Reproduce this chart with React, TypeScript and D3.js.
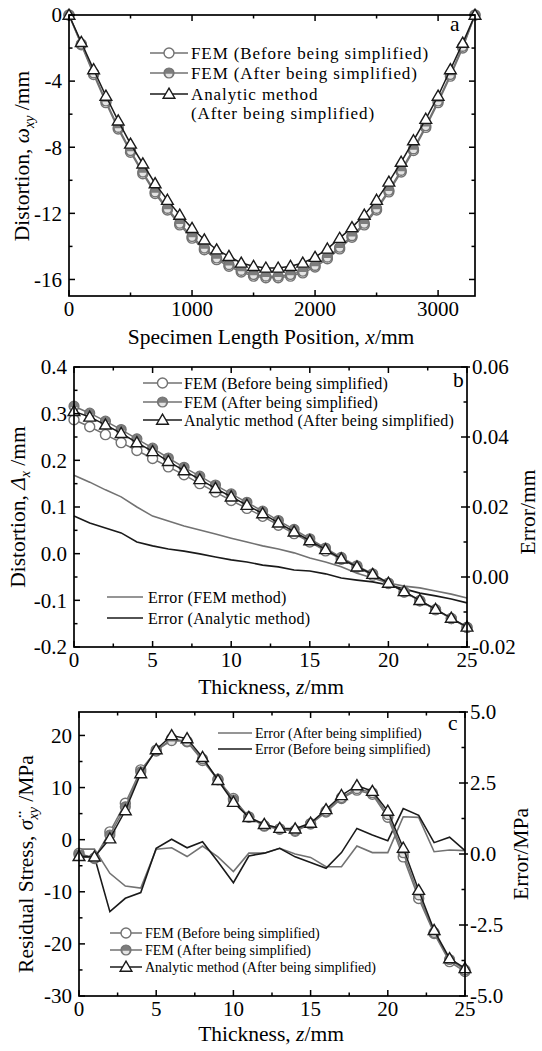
import React from "react";
import * as d3 from "d3";

const FONT = "'Liberation Serif', 'DejaVu Serif', serif";
const GRAY = "#727272";
const DARK = "#1a1a1a";
const TICK_FS = 21;
const TITLE_FS = 21.5;

// ---------------- Panel a ----------------
const aPosition = [0, 100, 200, 300, 400, 500, 600, 700, 800, 900, 1000, 1100, 1200, 1300, 1400, 1500, 1600, 1700, 1800, 1900, 2000, 2100, 2200, 2300, 2400, 2500, 2600, 2700, 2800, 2900, 3000, 3100, 3200, 3300];
const aFemBefore = [0, -1.8, -3.6, -5.3, -6.9, -8.3, -9.6, -10.8, -11.8, -12.7, -13.5, -14.2, -14.8, -15.2, -15.55, -15.8, -15.9, -15.9, -15.8, -15.6, -15.25, -14.75, -14.15, -13.45, -12.7, -11.8, -10.7, -9.5, -8.2, -6.8, -5.3, -3.7, -2.0, 0];
const aFemAfter = [0, -1.75, -3.5, -5.2, -6.8, -8.2, -9.5, -10.7, -11.7, -12.6, -13.4, -14.1, -14.7, -15.1, -15.45, -15.7, -15.8, -15.8, -15.7, -15.5, -15.15, -14.65, -14.05, -13.35, -12.6, -11.7, -10.6, -9.4, -8.1, -6.7, -5.2, -3.6, -1.9, 0];
const aAnalytic = [0, -1.65, -3.3, -4.9, -6.4, -7.8, -9.0, -10.2, -11.2, -12.1, -12.9, -13.6, -14.2, -14.6, -15.0, -15.2, -15.3, -15.3, -15.2, -15.0, -14.65, -14.15, -13.5, -12.85, -12.1, -11.2, -10.1, -8.9, -7.6, -6.3, -4.9, -3.3, -1.7, 0];
const aXTicks = [0, 1000, 2000, 3000];
const aXMinor = [500, 1500, 2500];
const aYTicks = [0, -4, -8, -12, -16];
const aYMinor = [-2, -6, -10, -14];

// ---------------- Panel b ----------------
const bThickness = [0, 1, 2, 3, 4, 5, 6, 7, 8, 9, 10, 11, 12, 13, 14, 15, 16, 17, 18, 19, 20, 21, 22, 23, 24, 25];
const bFemBefore = [0.287, 0.272, 0.255, 0.238, 0.221, 0.204, 0.186, 0.169, 0.150, 0.132, 0.114, 0.097, 0.080, 0.061, 0.043, 0.025, 0.006, -0.012, -0.029, -0.046, -0.064, -0.082, -0.101, -0.120, -0.139, -0.158];
const bFemAfter = [0.316, 0.301, 0.284, 0.266, 0.246, 0.226, 0.205, 0.185, 0.166, 0.147, 0.128, 0.110, 0.091, 0.071, 0.052, 0.032, 0.012, -0.008, -0.026, -0.043, -0.063, -0.082, -0.101, -0.120, -0.139, -0.158];
const bAnalytic = [0.305, 0.293, 0.276, 0.258, 0.238, 0.219, 0.198, 0.178, 0.159, 0.140, 0.122, 0.104, 0.086, 0.066, 0.047, 0.028, 0.009, -0.011, -0.028, -0.044, -0.063, -0.081, -0.100, -0.119, -0.138, -0.157];
const bErrFem = [0.0291, 0.0271, 0.0249, 0.0229, 0.0200, 0.0174, 0.0160, 0.0146, 0.0134, 0.0123, 0.0111, 0.0100, 0.0089, 0.0080, 0.0069, 0.0054, 0.0043, 0.0029, 0.0011, -0.0003, -0.0017, -0.0026, -0.0031, -0.0040, -0.0049, -0.0060];
const bErrAnalytic = [0.0174, 0.0154, 0.0140, 0.0126, 0.0100, 0.0089, 0.0080, 0.0074, 0.0066, 0.0057, 0.0049, 0.0043, 0.0034, 0.0029, 0.0020, 0.0017, 0.0009, -0.0003, -0.0009, -0.0014, -0.0023, -0.0034, -0.0046, -0.0054, -0.0063, -0.0074];
const bXTicks = [0, 5, 10, 15, 20, 25];
const bXMinor = [2.5, 7.5, 12.5, 17.5, 22.5];
const bYTicks = [0.4, 0.3, 0.2, 0.1, 0.0, -0.1, -0.2];
const bYMinor = [0.35, 0.25, 0.15, 0.05, -0.05, -0.15];
const bYRTicks = [0.06, 0.04, 0.02, 0.0, -0.02];
const bYRMinor = [0.05, 0.03, 0.01, -0.01];

// ---------------- Panel c ----------------
const cThickness = [0, 1, 2, 3, 4, 5, 6, 7, 8, 9, 10, 11, 12, 13, 14, 15, 16, 17, 18, 19, 20, 21, 22, 23, 24, 25];
const cFemBefore = [-2.6, -3.6, 1.5, 7.0, 13.4, 17.0, 19.4, 18.8, 15.2, 11.5, 7.9, 4.3, 2.6, 2.0, 1.6, 3.0, 5.3, 7.9, 9.5, 8.7, 4.3, -3.3, -11.3, -18.0, -23.4, -25.3];
const cFemAfter = [-2.9, -3.5, 0.9, 6.3, 13.0, 17.2, 19.0, 18.9, 15.5, 11.6, 7.6, 4.4, 2.7, 2.1, 1.8, 3.1, 5.5, 8.1, 9.8, 9.0, 4.8, -2.5, -10.6, -17.8, -23.0, -25.0];
const cAnalytic = [-3.2, -3.3, 0.2, 5.6, 12.7, 17.3, 20.0, 19.4, 15.8, 11.4, 7.2, 4.3, 2.95, 2.2, 2.1, 3.2, 5.8, 8.5, 10.4, 9.3, 5.5, -1.6, -9.7, -17.4, -22.8, -24.7];
const cErrAfter = [0.17, 0.17, -0.68, -1.13, -1.2, 0.17, 0.22, -0.09, 0.28, -0.1, -0.62, 0.03, 0.03, 0.2, 0.0, -0.12, -0.45, -0.45, 0.28, 0.05, 0.05, 1.31, 1.29, 0.08, 0.14, 0.12];
const cErrBefore = [-0.1, -0.1, -2.03, -1.56, -1.36, 0.2, 0.52, 0.22, 0.43, -0.27, -1.01, -0.07, 0.03, 0.2, -0.1, -0.3, -0.5, 0.05, 0.9, 0.67, 0.47, 1.6, 1.36, 0.4, 0.59, 0.12];
const cXTicks = [0, 5, 10, 15, 20, 25];
const cXMinor = [2.5, 7.5, 12.5, 17.5, 22.5];
const cYTicks = [20, 10, 0, -10, -20, -30];
const cYMinor = [15, 5, -5, -15, -25];
const cYRTicks = [5, 2.5, 0, -2.5, -5];
const cYRMinor = [3.75, 1.25, -1.25, -3.75];

type Box = { l: number; t: number; r: number; b: number };

function Marker({ kind, x, y, s = 1 }: { kind: string; x: number; y: number; s?: number }) {
  if (kind === "open")
    return <circle cx={x} cy={y} r={5 * s} fill="#fff" stroke={GRAY} strokeWidth={1.4} />;
  if (kind === "half") {
    const r = 3.4 * s;
    return (
      <g>
        <circle cx={x} cy={y} r={5 * s} fill="#7d7d7d" stroke={GRAY} strokeWidth={1.2} />
        <path d={`M${x - r},${y + 0.8} A${r},${r} 0 0 0 ${x + r},${y + 0.8} Z`} fill="#e4e4e4" />
      </g>
    );
  }
  const h = 5.6 * s;
  return (
    <path
      d={`M${x},${y - h * 1.05} L${x + h * 1.05},${y + h * 0.75} L${x - h * 1.05},${y + h * 0.75} Z`}
      fill="#fff"
      stroke={DARK}
      strokeWidth={1.4}
    />
  );
}

function Series({ xs, ys, x, y, color, kind, width = 1.5 }: any) {
  const line = d3
    .line<number>()
    .x((_, i) => x(xs[i]))
    .y((d) => y(d));
  return (
    <g>
      <path d={line(ys) || ""} fill="none" stroke={color} strokeWidth={width} />
      {kind && ys.map((v: number, i: number) => <Marker key={i} kind={kind} x={x(xs[i])} y={y(v)} />)}
    </g>
  );
}

function Frame({ box, x, y, yR, xTicks, xMinor, yTicks, yMinor, yRTicks, yRMinor, yFmt, yRFmt }: any) {
  const M = 6, m = 3.5;
  const els: any[] = [];
  let k = 0;
  const tk = (x1: number, y1: number, x2: number, y2: number) =>
    els.push(<line key={k++} x1={x1} y1={y1} x2={x2} y2={y2} stroke="#000" strokeWidth={1.5} />);
  xTicks.forEach((v: number) => {
    const px = x(v);
    tk(px, box.b, px, box.b - M);
    tk(px, box.t, px, box.t + M);
    els.push(
      <text key={k++} x={px} y={box.b + 20} textAnchor="middle" fontSize={TICK_FS}>
        {v}
      </text>
    );
  });
  xMinor.forEach((v: number) => {
    const px = x(v);
    tk(px, box.b, px, box.b - m);
    tk(px, box.t, px, box.t + m);
  });
  yTicks.forEach((v: number) => {
    const py = y(v);
    tk(box.l, py, box.l + M, py);
    if (!yR) tk(box.r, py, box.r - M, py);
    els.push(
      <text key={k++} x={box.l - 7} y={py} dy="0.35em" textAnchor="end" fontSize={TICK_FS}>
        {yFmt(v)}
      </text>
    );
  });
  yMinor.forEach((v: number) => {
    const py = y(v);
    tk(box.l, py, box.l + m, py);
    if (!yR) tk(box.r, py, box.r - m, py);
  });
  if (yR) {
    yRTicks.forEach((v: number) => {
      const py = yR(v);
      tk(box.r - M, py, box.r + 3, py);
      els.push(
        <text key={k++} x={box.r + 5} y={py} dy="0.35em" textAnchor="start" fontSize={TICK_FS}>
          {yRFmt(v)}
        </text>
      );
    });
    yRMinor.forEach((v: number) => {
      const py = yR(v);
      tk(box.r, py, box.r - m, py);
    });
  }
  return (
    <g>
      <rect x={box.l} y={box.t} width={box.r - box.l} height={box.b - box.t} fill="none" stroke="#000" strokeWidth={1.7} />
      {els}
    </g>
  );
}

function LegendRow({ x1, x2, y, color, kind, text, tx, fs, ls = 0 }: any) {
  return (
    <g>
      <line x1={x1} x2={x2} y1={y} y2={y} stroke={color} strokeWidth={1.5} />
      {kind && <Marker kind={kind} x={(x1 + x2) / 2} y={y} />}
      <text x={tx} y={y} dy="0.35em" fontSize={fs} letterSpacing={ls}>
        {text}
      </text>
    </g>
  );
}

const fmtInt = (v: number) => String(v);
const fmt1 = (v: number) => v.toFixed(1);
const fmt2 = (v: number) => v.toFixed(2);

export default function App() {
  const boxA: Box = { l: 69, t: 15, r: 475, b: 296 };
  const xA = d3.scaleLinear().domain([0, 3300]).range([boxA.l, boxA.r]);
  const yA = d3.scaleLinear().domain([-17, 0]).range([boxA.b, boxA.t]);

  const boxB: Box = { l: 74, t: 367, r: 467, b: 647 };
  const xB = d3.scaleLinear().domain([0, 25]).range([boxB.l, boxB.r]);
  const yB = d3.scaleLinear().domain([-0.2, 0.4]).range([boxB.b, boxB.t]);
  const yBR = d3.scaleLinear().domain([-0.02, 0.06]).range([boxB.b, boxB.t]);

  const boxC: Box = { l: 79, t: 712, r: 465, b: 996 };
  const xC = d3.scaleLinear().domain([0, 25]).range([boxC.l, boxC.r]);
  const yC = d3.scaleLinear().domain([-30, 24.5]).range([boxC.b, boxC.t]);
  const yCR = d3.scaleLinear().domain([-5, 5]).range([boxC.b, boxC.t]);

  return (
    <div style={{ position: "absolute", left: 0, top: 0 }}>
      <svg width={542} height={1051} style={{ display: "block", background: "#fff", fontFamily: FONT }}>
        {/* ---------- Panel a ---------- */}
        <Series xs={aPosition} ys={aFemBefore} x={xA} y={yA} color={GRAY} kind="open" />
        <Series xs={aPosition} ys={aFemAfter} x={xA} y={yA} color={GRAY} kind="half" />
        <Series xs={aPosition} ys={aAnalytic} x={xA} y={yA} color={DARK} kind="tri" />
        <Frame box={boxA} x={xA} y={yA} xTicks={aXTicks} xMinor={aXMinor} yTicks={aYTicks} yMinor={aYMinor} yFmt={fmtInt} />
        <LegendRow x1={150} x2={188} y={53} color={GRAY} kind="open" text="FEM (Before being simplified)" tx={191} fs={17} ls={0.9} />
        <LegendRow x1={150} x2={188} y={73} color={GRAY} kind="half" text="FEM (After being simplified)" tx={191} fs={17} ls={0.9} />
        <LegendRow x1={150} x2={188} y={94} color={DARK} kind="tri" text="Analytic method" tx={191} fs={17} ls={0.9} />
        <text x={191} y={113} dy="0.35em" fontSize={17} letterSpacing={0.9}>(After being simplified)</text>
        <text x={450} y={31} fontSize={TITLE_FS}>a</text>
        <text x={271} y={344} textAnchor="middle" fontSize={TITLE_FS}>
          Specimen Length Position, <tspan fontStyle="italic">x</tspan>/mm
        </text>
        <text transform="translate(29,156) rotate(-90)" textAnchor="middle" fontSize={TITLE_FS}>
          Distortion, <tspan fontStyle="italic">ω</tspan>
          <tspan fontStyle="italic" fontSize={14} dy={5}>xy</tspan>
          <tspan dy={-5}> /mm</tspan>
        </text>

        {/* ---------- Panel b ---------- */}
        <Series xs={bThickness} ys={bErrFem} x={xB} y={yBR} color={GRAY} width={1.6} />
        <Series xs={bThickness} ys={bErrAnalytic} x={xB} y={yBR} color={DARK} width={1.6} />
        <Series xs={bThickness} ys={bFemBefore} x={xB} y={yB} color={GRAY} kind="open" />
        <Series xs={bThickness} ys={bFemAfter} x={xB} y={yB} color={GRAY} kind="half" />
        <Series xs={bThickness} ys={bAnalytic} x={xB} y={yB} color={DARK} kind="tri" />
        <Frame box={boxB} x={xB} y={yB} yR={yBR} xTicks={bXTicks} xMinor={bXMinor} yTicks={bYTicks} yMinor={bYMinor} yRTicks={bYRTicks} yRMinor={bYRMinor} yFmt={fmt1} yRFmt={fmt2} />
        <LegendRow x1={143} x2={182} y={383} color={GRAY} kind="open" text="FEM (Before being simplified)" tx={184} fs={16} ls={0.15} />
        <LegendRow x1={143} x2={182} y={402} color={GRAY} kind="half" text="FEM (After being simplified)" tx={184} fs={16} ls={0.15} />
        <LegendRow x1={143} x2={182} y={420} color={DARK} kind="tri" text="Analytic method (After being simplified)" tx={184} fs={16} ls={0.15} />
        <LegendRow x1={107} x2={143} y={597} color={GRAY} text="Error (FEM method)" tx={148} fs={16} ls={0.3} />
        <LegendRow x1={107} x2={143} y={618} color={DARK} text="Error (Analytic method)" tx={148} fs={16} ls={0.3} />
        <text x={453} y={387} fontSize={TITLE_FS}>b</text>
        <text x={271} y={694} textAnchor="middle" fontSize={TITLE_FS}>
          Thickness, <tspan fontStyle="italic">z</tspan>/mm
        </text>
        <text transform="translate(25,507) rotate(-90)" textAnchor="middle" fontSize={TITLE_FS}>
          Distortion, <tspan fontStyle="italic">Δ</tspan>
          <tspan fontStyle="italic" fontSize={14} dy={5}>x</tspan>
          <tspan dy={-5}> /mm</tspan>
        </text>
        <text transform="translate(535,512) rotate(-90)" textAnchor="middle" fontSize={TITLE_FS}>
          Error/mm
        </text>

        {/* ---------- Panel c ---------- */}
        <Series xs={cThickness} ys={cErrAfter} x={xC} y={yCR} color={GRAY} width={1.6} />
        <Series xs={cThickness} ys={cErrBefore} x={xC} y={yCR} color={DARK} width={1.6} />
        <Series xs={cThickness} ys={cFemBefore} x={xC} y={yC} color={GRAY} kind="open" />
        <Series xs={cThickness} ys={cFemAfter} x={xC} y={yC} color={GRAY} kind="half" />
        <Series xs={cThickness} ys={cAnalytic} x={xC} y={yC} color={DARK} kind="tri" />
        <Frame box={boxC} x={xC} y={yC} yR={yCR} xTicks={cXTicks} xMinor={cXMinor} yTicks={cYTicks} yMinor={cYMinor} yRTicks={cYRTicks} yRMinor={cYRMinor} yFmt={fmtInt} yRFmt={fmt1} />
        <LegendRow x1={218} x2={252} y={733} color={GRAY} text="Error (After being simplified)" tx={255} fs={14} />
        <LegendRow x1={218} x2={252} y={749} color={DARK} text="Error (Before being simplified)" tx={255} fs={14} />
        <LegendRow x1={110} x2={142} y={933} color={GRAY} kind="open" text="FEM (Before being simplified)" tx={145} fs={14} />
        <LegendRow x1={110} x2={142} y={950} color={GRAY} kind="half" text="FEM (After being simplified)" tx={145} fs={14} />
        <LegendRow x1={110} x2={142} y={967} color={DARK} kind="tri" text="Analytic method (After being simplified)" tx={145} fs={14} />
        <text x={448} y={730} fontSize={TITLE_FS}>c</text>
        <text x={271} y={1041} textAnchor="middle" fontSize={TITLE_FS}>
          Thickness, <tspan fontStyle="italic">z</tspan>/mm
        </text>
        <text transform="translate(33,864) rotate(-90)" textAnchor="middle" fontSize={TITLE_FS}>
          Residual Stress, <tspan fontStyle="italic">σ̈</tspan>
          <tspan fontStyle="italic" fontSize={14} dy={5}>xy</tspan>
          <tspan dy={-5}> /MPa</tspan>
        </text>
        <text transform="translate(528,854) rotate(-90)" textAnchor="middle" fontSize={TITLE_FS}>
          Error/MPa
        </text>
      </svg>
    </div>
  );
}
